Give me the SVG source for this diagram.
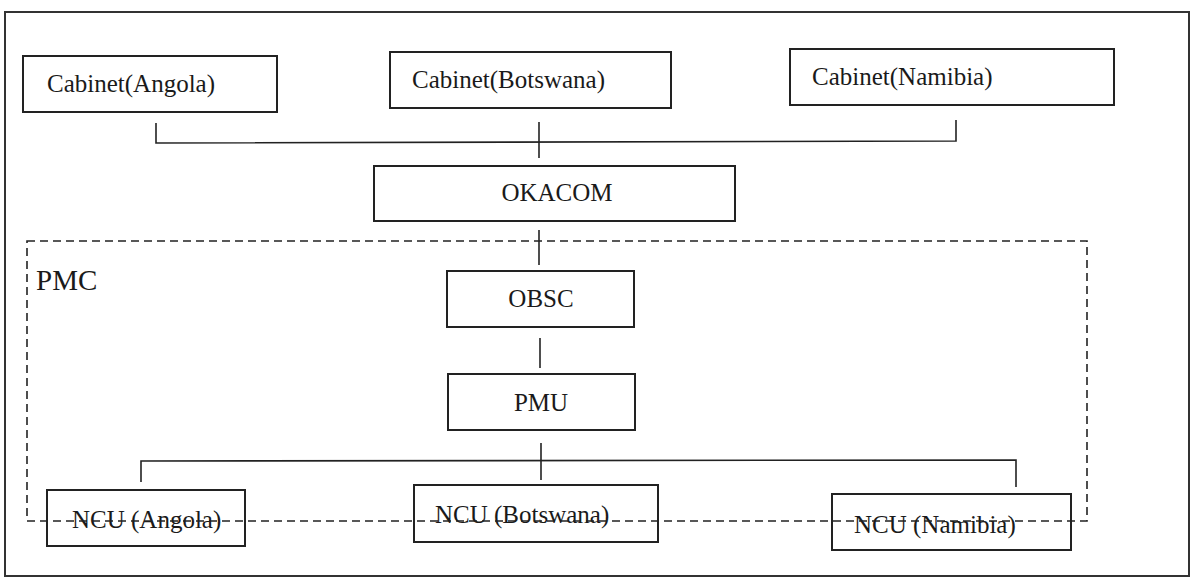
<svg xmlns="http://www.w3.org/2000/svg" width="1194" height="578" viewBox="0 0 1194 578">
<style>
.box{fill:#fff;stroke:#222;stroke-width:2}
.t{font-family:"Liberation Serif","Times New Roman",serif;font-size:25px;fill:#1a1a1a}
.c{stroke:#222;stroke-width:1.6;fill:none}
.d{stroke:#222;stroke-width:1.6;fill:none;stroke-dasharray:8,5}
</style>
<rect width="1194" height="578" fill="#fff"/>
<rect x="5" y="12" width="1184" height="564" fill="none" stroke="#333" stroke-width="2"/>
<g id="connectors">
<polyline class="c" points="156,123 156,143 956,141 956,120"/>
<line class="c" x1="539" y1="122" x2="539" y2="158"/>
<line class="c" x1="539" y1="230" x2="539" y2="265"/>
<line class="c" x1="540" y1="338" x2="540" y2="368"/>
<line class="c" x1="541" y1="443" x2="541" y2="480"/>
<polyline class="c" points="141,482 141,461 1016,460 1016,487"/>
</g>
<g id="cabinet-angola">
<rect class="box" x="23" y="56" width="254" height="56"/>
<text class="t" x="47" y="92">Cabinet(Angola)</text>
</g>
<g id="cabinet-botswana">
<rect class="box" x="390" y="52" width="281" height="56"/>
<text class="t" x="412" y="88">Cabinet(Botswana)</text>
</g>
<g id="cabinet-namibia">
<rect class="box" x="790" y="49" width="324" height="56"/>
<text class="t" x="812" y="85">Cabinet(Namibia)</text>
</g>
<g id="okacom">
<rect class="box" x="374" y="166" width="361" height="55"/>
<text class="t" x="557" y="201" text-anchor="middle">OKACOM</text>
</g>
<g id="obsc">
<rect class="box" x="447" y="271" width="187" height="56"/>
<text class="t" x="541" y="307" text-anchor="middle">OBSC</text>
</g>
<g id="pmu">
<rect class="box" x="448" y="374" width="187" height="56"/>
<text class="t" x="541" y="411" text-anchor="middle">PMU</text>
</g>
<g id="ncu-angola">
<rect class="box" x="47" y="490" width="198" height="56"/>
<text class="t" x="72" y="528">NCU (Angola)</text>
</g>
<g id="ncu-botswana">
<rect class="box" x="414" y="485" width="244" height="57"/>
<text class="t" x="435" y="523">NCU (Botswana)</text>
</g>
<g id="ncu-namibia">
<rect class="box" x="832" y="494" width="239" height="56"/>
<text class="t" x="854" y="533">NCU (Namibia)</text>
</g>
<g id="pmc">
<rect class="d" x="27" y="241" width="1060" height="280"/>
<text class="t" x="36" y="290" style="font-size:29px">PMC</text>
</g>
</svg>
